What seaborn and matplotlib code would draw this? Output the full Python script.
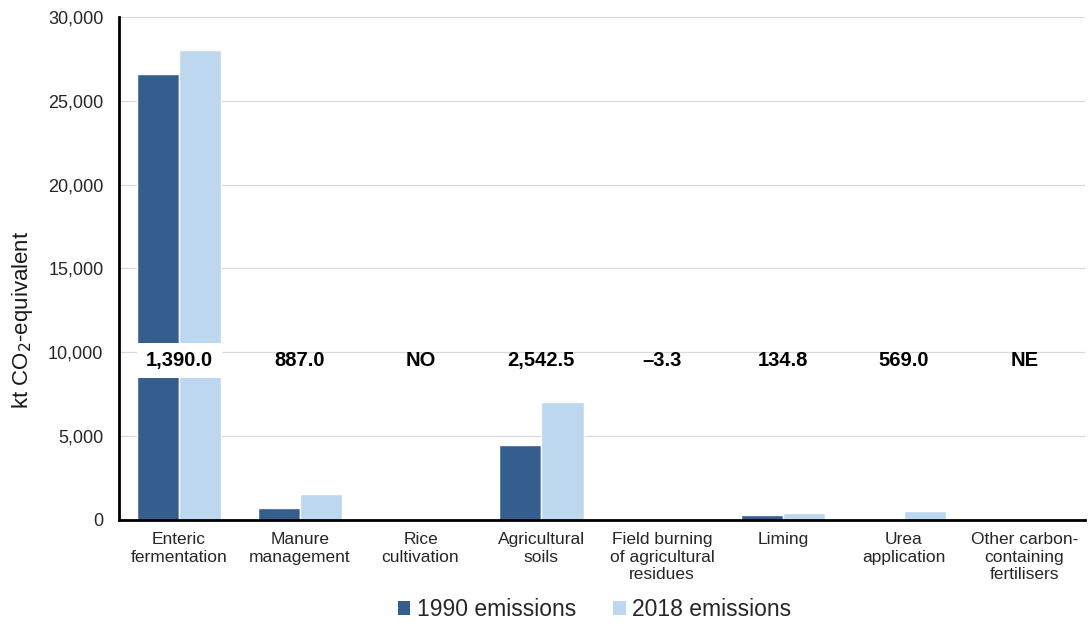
import matplotlib
matplotlib.use("Agg")
import matplotlib.pyplot as plt
import seaborn as sns
import pandas as pd
from matplotlib.ticker import FuncFormatter
from matplotlib.patches import Patch

categories = ["Enteric\nfermentation", "Manure\nmanagement", "Rice\ncultivation",
              "Agricultural\nsoils", "Field burning\nof agricultural\nresidues",
              "Liming", "Urea\napplication", "Other carbon-\ncontaining\nfertilisers"]
emissions_1990 = [26600, 680, 0, 4450, 0, 300, 0, 0]
emissions_2018 = [28000, 1560, 0, 7000, 0, 380, 540, 0]
change_labels = ["1,390.0", "887.0", "NO", "2,542.5", "\u20133.3", "134.8", "569.0", "NE"]
series_names = ["1990 emissions", "2018 emissions"]
colors = ["#355E8F", "#BDD7EE"]

df = pd.DataFrame({
    "category": categories * 2,
    "value": emissions_1990 + emissions_2018,
    "series": [series_names[0]] * len(categories) + [series_names[1]] * len(categories),
})

sns.set_theme(style="white")
plt.rcParams['font.family'] = ['Liberation Sans', 'DejaVu Sans']

fig = plt.figure(figsize=(10.89, 6.27), dpi=100)
ax = fig.add_axes([0.109, 0.171, 0.887, 0.802])

sns.barplot(data=df, x="category", y="value", hue="series", order=categories,
            hue_order=series_names, palette=colors, saturation=1, width=0.7,
            gap=0, ax=ax, legend=False, zorder=2)

ax.set_ylim(0, 30000)
ax.set_yticks(range(0, 30001, 5000))
ax.yaxis.set_major_formatter(FuncFormatter(lambda v, p: f"{int(v):,}"))
ax.set_xlim(-0.5, len(categories) - 0.5)
ax.grid(axis="y", color="#D9D9D9", linewidth=0.9, zorder=0)
ax.set_axisbelow(True)
for s in ["top", "right"]:
    ax.spines[s].set_visible(False)
for s in ["left", "bottom"]:
    ax.spines[s].set_color("black")
    ax.spines[s].set_linewidth(2)
ax.tick_params(axis="y", length=0, pad=11, labelsize=13, labelcolor="#262626")
ax.tick_params(axis="x", length=0, pad=9, labelsize=12.5, labelcolor="#262626")
ax.set_xlabel("")
ax.set_ylabel("")

fig.text(23 / 1089, 1 - 320 / 627, "kt CO$_2$-equivalent", rotation=90,
         ha="center", va="center", fontsize=16, color="#1a1a1a")

for i, lab in enumerate(change_labels):
    t = ax.text(i, 9500, lab, ha="center", va="center", fontsize=14.5,
                fontweight="bold", color="black", zorder=5)
    if i == 0:
        t.set_bbox(dict(boxstyle="square,pad=0.4", facecolor="white", edgecolor="none"))

handles = [Patch(facecolor=c, edgecolor="none") for c in colors]
fig.legend(handles, series_names, loc="center", bbox_to_anchor=(0.546, 0.028),
           ncol=2, frameon=False, fontsize=16.5, handlelength=0.55, handleheight=0.55,
           handletextpad=0.3, columnspacing=1.6)

fig.savefig("out.png", dpi=100)
